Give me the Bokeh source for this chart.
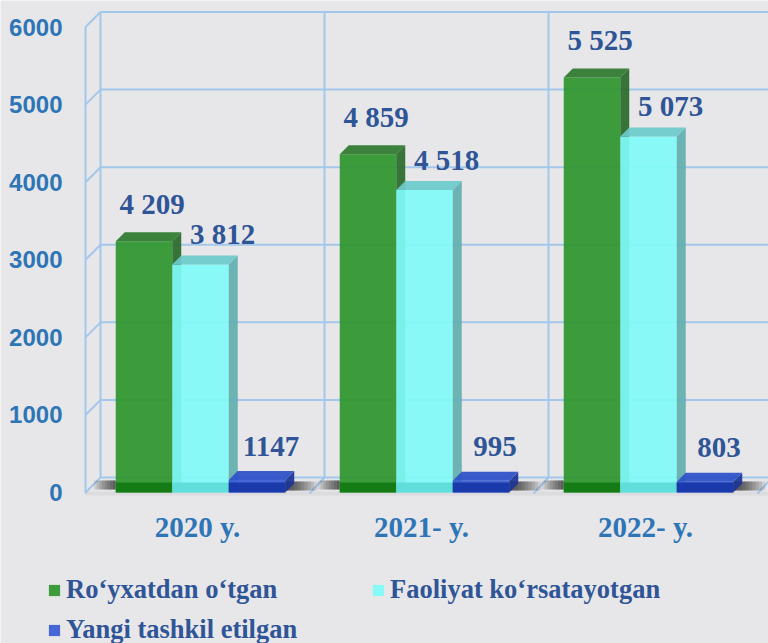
from bokeh.plotting import figure
from bokeh.models import FixedTicker, Range1d, Legend, LegendItem, LinearAxis
from bokeh.core.properties import value
from bokeh.embed import file_html
from bokeh.resources import INLINE

# ---------------- data ----------------
years = ["2020 y.", "2021- y.", "2022- y."]
series_names = ["Ro\u2018yxatdan o\u2018tgan", "Faoliyat ko\u2018rsatayotgan", "Yangi tashkil etilgan"]
# bar heights as drawn in the picture (read against the axis)
registered = [3240, 4360, 5350]
active = [2940, 3900, 4590]
new_created = [160, 150, 140]
# value labels printed above the bars
registered_labels = ["4 209", "4 859", "5 525"]
active_labels = ["3 812", "4 518", "5 073"]
new_labels = ["1147", "995", "803"]
y_ticks = [0, 1000, 2000, 3000, 4000, 5000, 6000]

# ---------------- style / layout ----------------
BG = "#E7E7EA"
GRID = "#A3C7EA"
TICK_BLUE = "#2E75B6"
LABEL_BLUE = "#2F5597"
FIG_W, FIG_H = 768, 643
ORIGIN_X = 85           # pixel column of the front-left corner
ORIGIN_Y = 492          # pixel row of the front floor (value 0)
PX = 0.07758            # vertical pixels per data unit
CAT_W = 224             # category width (x units = pixels)
W = 56.5                # bar width
SHIFT = 3               # bar group shift from tick
DX = 15                 # wall depth (px)
DY = 15 / PX            # wall depth (units)
BDX = 9                 # bar depth (px)
BDY = 9 / PX
BAND = 10 / PX


def u(px):
    return px / PX


p = figure(width=FIG_W, height=FIG_H, output_backend="svg", toolbar_location=None,
           x_range=Range1d(-ORIGIN_X, FIG_W - ORIGIN_X),
           y_range=Range1d(-u(FIG_H - ORIGIN_Y), u(ORIGIN_Y)),
           x_axis_type=None, y_axis_type=None,
           min_border_left=0, min_border_right=0, min_border_top=0, min_border_bottom=0)
p.background_fill_color = BG
p.border_fill_color = BG
p.outline_line_color = None
p.grid.visible = False

centers = [CAT_W * (i + 0.5) for i in range(len(years))]
ymax = y_ticks[-1]
xend = FIG_W - ORIGIN_X + 5

# ---------------- walls ----------------
p.quad(left=[0], right=[xend], bottom=[-u(3)], top=[u(1)], fill_color="#DCDCDF", line_color=None)
p.segment(x0=[DX] * len(y_ticks), y0=[v + DY for v in y_ticks], x1=[xend] * len(y_ticks),
          y1=[v + DY for v in y_ticks], line_color=GRID, line_width=2)
p.segment(x0=[0] * len(y_ticks), y0=y_ticks, x1=[DX] * len(y_ticks),
          y1=[v + DY for v in y_ticks], line_color=GRID, line_width=2)
p.segment(x0=[0, DX], y0=[-u(1), DY], x1=[0, DX], y1=[ymax, ymax + DY], line_color=GRID, line_width=2)
bounds = [CAT_W * (i + 1) for i in range(len(years))]
p.segment(x0=[b + DX for b in bounds], y0=[DY] * 3, x1=[b + DX for b in bounds],
          y1=[ymax + DY] * 3, line_color=GRID, line_width=2)
p.segment(x0=bounds, y0=[-u(1)] * 3, x1=[b + DX for b in bounds], y1=[DY] * 3,
          line_color=GRID, line_width=2)

# ---------------- floor shadows ----------------
steps = 8
for c in centers:
    gl = c + SHIFT - 1.5 * W
    gr = c + SHIFT + 1.5 * W
    for k in range(steps):
        frac = (k + 1) / steps
        p.quad(left=[gl - 22 * frac], right=[gl], bottom=[u(3)], top=[u(12)],
               fill_color="black", fill_alpha=0.1, line_color=None)
        p.quad(left=[gr], right=[gr + 6 + 26 * frac], bottom=[u(2)], top=[u(11)],
               fill_color="black", fill_alpha=0.1, line_color=None)

# ---------------- bars ----------------
bar_series = [
    (registered, registered_labels, "#2E962E", "#2E7A2E", "#2A6B2A", "#127A12", 8, 37),
    (active, active_labels, "#80FAF8", "#6CCACA", "#62AEAE", "#5EDCD8", 22, 30),
    (new_created, new_labels, "#3A5CD5", "#2D50C8", "#1B3593", "#1838AA", 14, 34),
]

front_renderers = []
for j, (vals, labs, front, topc, side, band, ldx, ldy) in enumerate(bar_series):
    left = [c + SHIFT + (j - 1.5) * W for c in centers]
    right = [l + W for l in left]
    fr = p.quad(left=left, right=right, bottom=[0] * 3, top=vals, fill_color=front,
                fill_alpha=0.93, line_color=None)
    front_renderers.append(fr)
    p.quad(left=left, right=right, bottom=[0] * 3, top=[min(v, BAND) for v in vals],
           fill_color=band, fill_alpha=0.95, line_color=None)
    p.patches(xs=[[r, r + BDX, r + BDX, r] for r in right],
              ys=[[0, BDY, v + BDY, v] for v in vals],
              fill_color=side, fill_alpha=0.93, line_color=None)
    p.patches(xs=[[l, r, r + BDX, l + BDX] for l, r in zip(left, right)],
              ys=[[v, v, v + BDY, v + BDY] for v in vals],
              fill_color=topc, fill_alpha=0.93, line_color=None)

for j, (vals, labs, front, topc, side, band, ldx, ldy) in enumerate(bar_series):
    xc = [c + SHIFT + (j - 1) * W + ldx for c in centers]
    p.text(x=xc, y=[v + u(ldy) for v in vals], text=labs,
           text_font=value("Liberation Serif"), text_font_style="bold",
           text_font_size="29px", text_color=LABEL_BLUE,
           text_align="center", text_baseline="middle")

# ---------------- axes (fixed inside the frame) ----------------
yax = LinearAxis(fixed_location=0, ticker=FixedTicker(ticks=y_ticks))
yax.major_label_text_font = "Liberation Sans"
yax.major_label_text_font_style = "bold"
yax.major_label_text_font_size = "24px"
yax.major_label_text_color = TICK_BLUE
yax.axis_line_color = None
yax.major_tick_line_color = None
yax.minor_tick_line_color = None
yax.major_label_standoff = 17
p.add_layout(yax, "left")

xax = LinearAxis(fixed_location=0, ticker=FixedTicker(ticks=centers))
xax.major_label_overrides = {c: y for c, y in zip(centers, years)}
xax.major_label_text_font = "Liberation Serif"
xax.major_label_text_font_style = "bold"
xax.major_label_text_font_size = "29px"
xax.major_label_text_color = TICK_BLUE
xax.axis_line_color = None
xax.major_tick_line_color = None
xax.minor_tick_line_color = None
xax.major_label_standoff = 12
p.add_layout(xax, "below")

# ---------------- legend ----------------
items = [LegendItem(label=name, renderers=[r]) for name, r in zip(series_names, front_renderers)]
ROW_H = 30
ROW_GAP = 9
legend_h = 2 * ROW_H + ROW_GAP
row1_top = 591 - ROW_H // 2
legend = Legend(items=items, location=(47, FIG_H - row1_top - legend_h),
                orientation="horizontal", ncols=2,
                glyph_width=14, glyph_height=14, label_standoff=5,
                label_width=324 - 14 - 5 - ROW_GAP, label_height=ROW_H, spacing=ROW_GAP,
                padding=0, margin=0, border_line_color=None, background_fill_alpha=0,
                label_text_font="Liberation Serif", label_text_font_style="bold",
                label_text_font_size="26.5px", label_text_color=LABEL_BLUE)
p.add_layout(legend, "center")

open("out.html", "w").write(file_html(p, INLINE))
